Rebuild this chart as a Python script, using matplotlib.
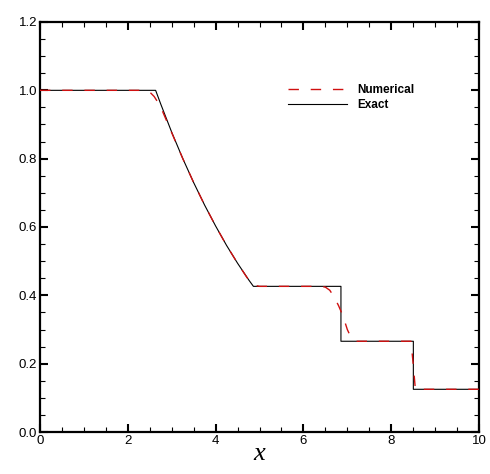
import matplotlib
matplotlib.use("Agg")
import matplotlib.pyplot as plt
from matplotlib.ticker import MultipleLocator

# exact solution (Sod tube, density)
x_exact = [0.0, 2.634, 2.75, 3.0, 3.25, 3.5, 3.75, 4.0, 4.25, 4.5, 4.75, 4.861,
           6.855, 6.855, 8.504, 8.504, 10.0]
rho_exact = [1.0, 1.0, 0.960, 0.8775, 0.801, 0.730, 0.664, 0.603, 0.546, 0.494,
             0.446, 0.4263, 0.4263, 0.2656, 0.2656, 0.125, 0.125]

# numerical solution
x_num = [0.0, 2.4, 2.5, 2.6, 2.7, 2.8, 2.9, 3.0, 3.25, 3.5, 3.75, 4.0, 4.25, 4.5,
         4.7, 4.8, 4.9, 5.0, 6.4, 6.5, 6.6, 6.7, 6.8, 6.9, 7.0, 7.1, 7.2,
         8.45, 8.5, 8.55, 10.0]
rho_num = [1.0, 1.0, 0.995, 0.982, 0.962, 0.936, 0.906, 0.876, 0.801, 0.730,
           0.664, 0.603, 0.546, 0.494, 0.455, 0.437, 0.429, 0.4263, 0.4263,
           0.424, 0.415, 0.395, 0.37, 0.34, 0.30, 0.272, 0.2656, 0.2656, 0.20,
           0.125, 0.125]

fig = plt.figure(figsize=(4.9, 4.74), dpi=100)
ax = fig.add_axes([0.0816, 0.0886, 0.896, 0.865])

ax.plot(x_exact, rho_exact, color="black", lw=0.8, label="Exact", zorder=2)
ax.plot(x_num, rho_num, color="#d01010", lw=1.0, dashes=(7.5, 8.5),
        label="Numerical", zorder=3)

ax.set_xlim(0, 10)
ax.set_ylim(0, 1.2)
ax.xaxis.set_major_locator(MultipleLocator(2))
ax.xaxis.set_minor_locator(MultipleLocator(0.5))
ax.yaxis.set_major_locator(MultipleLocator(0.2))
ax.yaxis.set_minor_locator(MultipleLocator(0.05))
ax.xaxis.set_major_formatter(plt.FuncFormatter(lambda v, p: "%d" % v))
ax.yaxis.set_major_formatter(plt.FuncFormatter(lambda v, p: "%.1f" % v))

for s in ax.spines.values():
    s.set_linewidth(1.6)
ax.tick_params(which="both", direction="in", top=True, right=True,
               labelsize=9.5, pad=2)
ax.tick_params(which="major", length=6, width=1.5)
ax.tick_params(which="minor", length=3.5, width=0.8)
for lab in ax.get_xticklabels() + ax.get_yticklabels():
    lab.set_family("Liberation Sans")

ax.set_xlabel("x", family="Liberation Serif", style="italic", fontsize=19,
              labelpad=-3)

h, l = ax.get_legend_handles_labels()
ax.legend(h[::-1], l[::-1], loc="upper left", bbox_to_anchor=(0.54, 0.875),
          frameon=False, prop={"family": "Liberation Sans", "weight": "bold",
                               "size": 8.5},
          handlelength=5.0, handletextpad=0.9, labelspacing=0.3)

fig.savefig("out.png", dpi=100)
